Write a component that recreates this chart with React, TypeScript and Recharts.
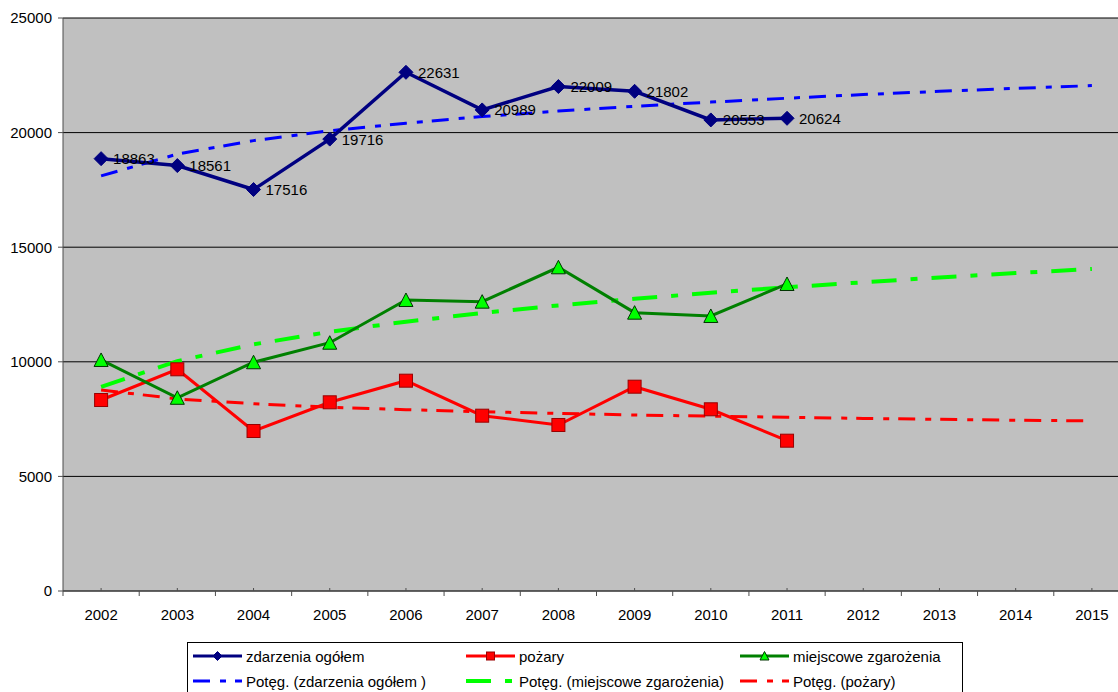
import React from "react";
import { CartesianGrid, LabelList, Line, LineChart, XAxis, YAxis } from "recharts";

const years = ["2002", "2003", "2004", "2005", "2006", "2007", "2008", "2009", "2010", "2011", "2012", "2013", "2014", "2015"];
const zdarzenia = [18863, 18561, 17516, 19716, 22631, 20989, 22009, 21802, 20553, 20624];
const pozary = [8333, 9673, 6981, 8233, 9176, 7649, 7243, 8914, 7928, 6558];
const miejscowe = [10080, 8430, 9980, 10833, 12697, 12624, 14123, 12144, 11999, 13395];
const trendZdarzenia = [18110, 19060, 19650, 20080, 20410, 20700, 20940, 21150, 21330, 21500, 21660, 21800, 21930, 22050];
const trendMiejscowe = [8910, 10030, 10760, 11310, 11750, 12130, 12460, 12750, 13010, 13250, 13470, 13680, 13870, 14050];
const trendPozary = [8770, 8380, 8170, 8020, 7910, 7820, 7750, 7680, 7630, 7580, 7530, 7490, 7450, 7420];
const yTicks = [0, 5000, 10000, 15000, 20000, 25000];

const data = years.map((year, i) => ({
  year,
  zdarzenia: zdarzenia[i] ?? null,
  pozary: pozary[i] ?? null,
  miejscowe: miejscowe[i] ?? null,
  trendZdarzenia: trendZdarzenia[i],
  trendMiejscowe: trendMiejscowe[i],
  trendPozary: trendPozary[i],
}));

const FONT = "Arial, 'Liberation Sans', sans-serif";
const AXIS = "#4d4d4d";
const CHART_W = 1130;
const CHART_H = 692;
const Y_W = 63;
const PLOT_W = CHART_W - Y_W;
const STEP = PLOT_W / years.length;

const NAVY = "#000080";
const RED = "#ff0000";
const GREEN = "#008000";
const LIME = "#00ff00";
const BLUE = "#0000ff";

const DASH_THIN = "17 10 6 9";
const DASH_WIDE = "25 14 7 14";

function Diamond({ cx, cy, r = 7 }: any) {
  return <polygon points={`${cx},${cy - r} ${cx + r},${cy} ${cx},${cy + r} ${cx - r},${cy}`} fill={NAVY} stroke={NAVY} />;
}

function Square({ cx, cy, r = 6.5 }: any) {
  return <rect x={cx - r} y={cy - r} width={r * 2} height={r * 2} fill={RED} stroke="#990000" strokeWidth={1} />;
}

function Triangle({ cx, cy, r = 7 }: any) {
  return <polygon points={`${cx},${cy - r} ${cx + r},${cy + r - 0.5} ${cx - r},${cy + r - 0.5}`} fill={LIME} stroke="#003300" strokeWidth={1} />;
}

const dotOf = (Shape: any) => (p: any) => {
  if (p.cy == null || p.value == null) return <g key={p.index} />;
  return <Shape key={p.index} cx={p.cx} cy={p.cy} />;
};

function YearTick(props: any) {
  const { x, y, payload, index } = props;
  return (
    <g>
      <line x1={x} x2={x} y1={y} y2={y - 3} stroke={AXIS} />
      <line x1={x - STEP / 2} x2={x - STEP / 2} y1={y} y2={y + 5} stroke={AXIS} />
      {index === years.length - 1 && <line x1={x + STEP / 2} x2={x + STEP / 2} y1={y} y2={y + 5} stroke={AXIS} />}
      <text x={x} y={y + 23} textAnchor="middle" dominantBaseline="central" fontSize={15} fontFamily={FONT} fill="#000">
        {payload.value}
      </text>
    </g>
  );
}

const legendItems = [
  { name: "zdarzenia ogółem", color: NAVY, width: 3, dash: undefined, marker: "diamond" },
  { name: "pożary", color: RED, width: 3, dash: undefined, marker: "square" },
  { name: "miejscowe zgarożenia", color: GREEN, width: 3, dash: undefined, marker: "triangle" },
  { name: "Potęg. (zdarzenia ogółem )", color: BLUE, width: 3, dash: DASH_THIN, marker: null },
  { name: "Potęg. (miejscowe zgarożenia)", color: LIME, width: 4, dash: DASH_WIDE, marker: null },
  { name: "Potęg. (pożary)", color: RED, width: 3, dash: DASH_THIN, marker: null },
];
const legendCols = [193, 466, 740];
const legendRows = [656, 681];

function LegendBox() {
  return (
    <svg width={1118} height={692} style={{ position: "absolute", left: 0, top: 0, pointerEvents: "none" }}>
      <rect x={187.5} y={642.5} width={775} height={60} fill="#fff" stroke="#000" />
      {legendItems.map((item, i) => {
        const x = legendCols[i % 3];
        const y = legendRows[Math.floor(i / 3)];
        const mid = x + 24.5;
        return (
          <g key={item.name}>
            <line x1={x} x2={x + 49} y1={y} y2={y} stroke={item.color} strokeWidth={item.width} strokeDasharray={item.dash} />
            {item.marker === "diamond" && <Diamond cx={mid} cy={y} r={4.5} />}
            {item.marker === "square" && <Square cx={mid} cy={y} r={4} />}
            {item.marker === "triangle" && <Triangle cx={mid} cy={y} r={4.5} />}
            <text x={x + 53} y={y} dominantBaseline="central" fontSize={15} fontFamily={FONT} fill="#000">
              {item.name}
            </text>
          </g>
        );
      })}
    </svg>
  );
}

export default function App() {
  return (
    <div style={{ position: "fixed", left: 0, top: 0, width: 1118, height: 692, overflow: "hidden", background: "#fff" }}>
      <LineChart width={CHART_W} height={CHART_H} data={data} margin={{ top: 18, right: 0, bottom: 71, left: 0 }}>
        <CartesianGrid vertical={false} stroke="#000" fill="#c0c0c0" fillOpacity={1} />
        <XAxis
          dataKey="year"
          height={30}
          padding={{ left: STEP / 2, right: STEP / 2 }}
          stroke={AXIS}
          tickLine={false}
          tickSize={0}
          tickMargin={0}
          interval={0}
          tick={<YearTick />}
        />
        <YAxis
          width={Y_W}
          domain={[0, 25000]}
          ticks={yTicks}
          stroke={AXIS}
          tickSize={5}
          tickMargin={6}
          tick={{ fontSize: 15, fontFamily: FONT, fill: "#000" }}
        />
        <Line dataKey="trendZdarzenia" stroke={BLUE} strokeWidth={3} strokeDasharray={DASH_THIN} dot={false} activeDot={false} isAnimationActive={false} type="linear" />
        <Line dataKey="trendMiejscowe" stroke={LIME} strokeWidth={4} strokeDasharray={DASH_WIDE} dot={false} activeDot={false} isAnimationActive={false} type="linear" />
        <Line dataKey="trendPozary" stroke={RED} strokeWidth={3} strokeDasharray={DASH_THIN} dot={false} activeDot={false} isAnimationActive={false} type="linear" />
        <Line dataKey="pozary" stroke={RED} strokeWidth={3} dot={dotOf(Square)} activeDot={false} isAnimationActive={false} type="linear" />
        <Line dataKey="miejscowe" stroke={GREEN} strokeWidth={3} dot={dotOf(Triangle)} activeDot={false} isAnimationActive={false} type="linear" />
        <Line dataKey="zdarzenia" stroke={NAVY} strokeWidth={3.5} dot={dotOf(Diamond)} activeDot={false} isAnimationActive={false} type="linear">
          <LabelList
            dataKey="zdarzenia"
            content={(p: any) =>
              p.value == null ? null : (
                <text x={p.x + 12} y={p.y} dominantBaseline="central" fontSize={15} fontFamily={FONT} fill="#000">
                  {p.value}
                </text>
              )
            }
          />
        </Line>
      </LineChart>
      <LegendBox />
    </div>
  );
}
